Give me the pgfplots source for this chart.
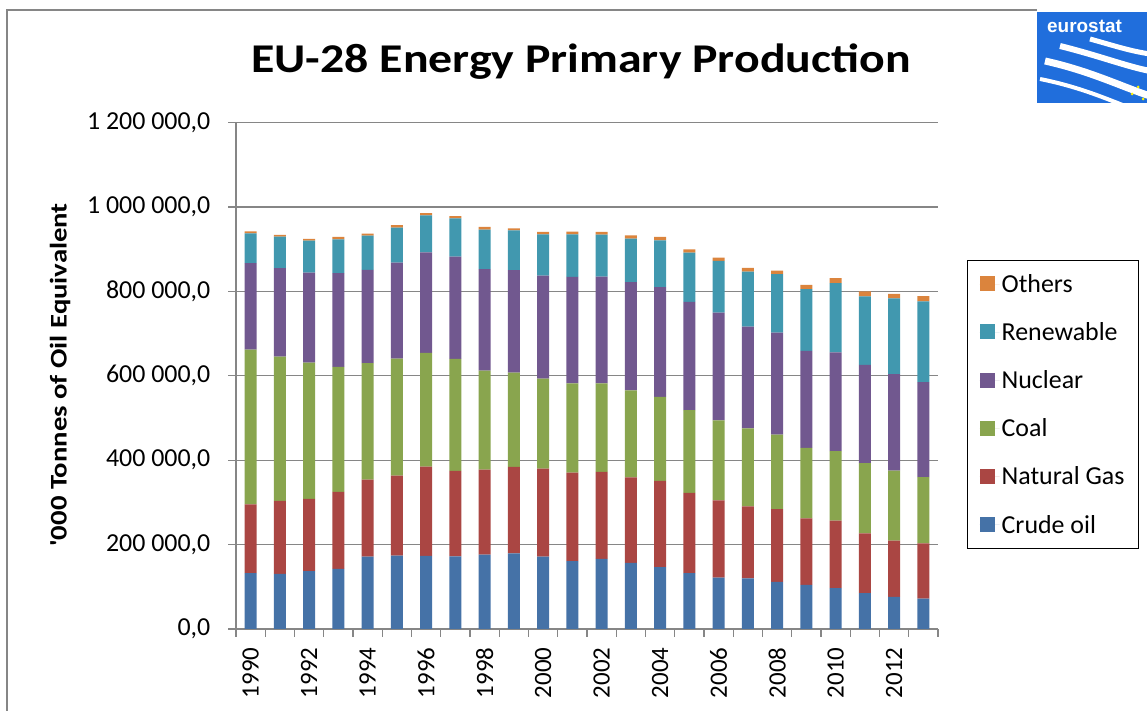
\documentclass[border=0pt]{standalone}
\usepackage{pgfplots}
\pgfplotsset{compat=1.18}
\usepackage{pgfplotstable}
\usepackage{fontspec}
\setmainfont{Carlito}
\newfontfamily\logofont{Liberation Sans}
\definecolor{oilc}{RGB}{69,114,167}
\definecolor{gasc}{RGB}{170,70,67}
\definecolor{coalc}{RGB}{137,165,78}
\definecolor{nucc}{RGB}{113,88,143}
\definecolor{renc}{RGB}{65,152,175}
\definecolor{othc}{RGB}{219,132,61}
\definecolor{gridc}{RGB}{134,134,134}
\definecolor{logoc}{RGB}{32,110,220}
\pgfplotsset{sqlegend/.style={legend image code/.code={\fill[##1] (0bp,-7bp) rectangle (15bp,8bp); \path (0bp,0bp) -- (20bp,0bp);}}}
\pgfplotstableread{
x year oil gas coal nuc ren oth
0 1990 132300 163000 366900 204700 70900 4700
1 1991 130700 173200 341800 209400 74800 4000
2 1992 137000 171700 322800 213400 75600 3900
3 1993 142500 182700 296100 222000 80300 5500
4 1994 171700 182600 275600 221300 81100 4700
5 1995 174000 189800 277100 227600 82700 6300
6 1996 173200 211800 269300 238600 87400 5500
7 1997 172400 202400 265400 242500 90500 5500
8 1998 176400 201600 234600 240200 93700 6300
9 1999 179500 204800 223600 242500 94500 4700
10 2000 171700 208600 213400 244100 97600 5600
11 2001 160600 210300 211000 252700 100800 6300
12 2002 166100 206300 209500 253500 99200 6400
13 2003 156700 202400 206200 256700 103200 7900
14 2004 146500 204700 199200 259800 111100 7800
15 2005 132300 190500 196100 256700 116500 7900
16 2006 122000 182700 189800 255100 122800 7900
17 2007 119700 170900 185000 240900 130800 8600
18 2008 111800 172500 176300 241800 138600 8600
19 2009 104700 157500 166900 230000 146400 10300
20 2010 96900 159800 164600 234600 163800 11800
21 2011 85000 141800 166100 233100 162200 11800
22 2012 76400 133000 166200 228300 179600 11000
23 2013 71700 131400 156700 225200 191400 12600
}\datatable
\begin{document}
\begin{tikzpicture}
\useasboundingbox (0,0) rectangle (1147bp,711bp);
% chart area border
\draw[gridc, line width=1.3bp] (7bp,0bp) -- (7bp,701bp) -- (1037bp,701bp);
% title
\node[font=\bfseries\fontsize{41}{48}\selectfont] at (581bp,649bp) {\scalebox{1.17}[1]{EU-28 Energy Primary Production}};
% y label
\node[font=\bfseries\fontsize{24}{29}\selectfont, rotate=90] at (60bp,336bp) {\scalebox{1.2}[1]{\textquotesingle000 Tonnes of Oil Equivalent}};
\begin{axis}[
  at={(236bp,82bp)}, anchor=south west,
  scale only axis, width=702bp, height=506.3bp,
  ybar stacked, bar width=12bp,
  xmin=-0.5, xmax=23.5, ymin=0, ymax=1200000,
  axis x line=bottom, axis y line=left,
  axis line style={-, draw=gridc, line width=1.3bp},
  xtick={0,2,...,22},
  xticklabels={1990,1992,1994,1996,1998,2000,2002,2004,2006,2008,2010,2012},
  minor xtick={-0.5,0.5,...,23.5},
  ytick={0,200000,400000,600000,800000,1000000,1200000},
  yticklabels={{0,0},{200 000,0},{400 000,0},{600 000,0},{800 000,0},{1 000 000,0},{1 200 000,0}},
  scaled y ticks=false,
  tick align=outside,
  major tick length=7.5bp, minor tick length=7.5bp,
  major x tick style={draw=none},
  minor x tick style={draw=gridc, line width=1.3bp},
  ytick style={draw=gridc, line width=1.3bp},
  ymajorgrids, major grid style={draw=gridc, line width=1.3bp},
  xticklabel style={font=\fontsize{25}{30}\selectfont, rotate=90, anchor=east, inner sep=0pt, xshift=-11bp},
  yticklabel style={font=\fontsize{26}{31}\selectfont, inner sep=0pt, xshift=-18bp},
  legend style={at={(axis description cs:1.0413,0.7288)}, anchor=north west,
    draw=black, line width=1.3bp, font=\fontsize{26}{31}\selectfont,
    inner xsep=12bp, inner ysep=12bp, row sep=24.6bp,
    nodes={inner sep=2bp}},
  legend cell align=left,
  reverse legend,
  clip=false,
]
\addplot[fill=oilc, draw=none, sqlegend] table[x=x, y=oil] {\datatable};
\addlegendentry{Crude oil}
\addplot[fill=gasc, draw=none, sqlegend] table[x=x, y=gas] {\datatable};
\addlegendentry{Natural Gas}
\addplot[fill=coalc, draw=none, sqlegend] table[x=x, y=coal] {\datatable};
\addlegendentry{Coal}
\addplot[fill=nucc, draw=none, sqlegend] table[x=x, y=nuc] {\datatable};
\addlegendentry{Nuclear}
\addplot[fill=renc, draw=none, sqlegend] table[x=x, y=ren] {\datatable};
\addlegendentry{Renewable}
\addplot[fill=othc, draw=none, sqlegend] table[x=x, y=oth] {\datatable};
\addlegendentry{Others}
\end{axis}
% eurostat logo
\begin{scope}
\clip (1037bp,608bp) rectangle (1147bp,699bp);
\fill[logoc] (1037bp,608bp) rectangle (1147bp,699bp);
\node[anchor=base west, text=white, font=\logofont\bfseries\fontsize{19}{22}\selectfont, inner sep=0pt] at (1047bp,678bp) {eurostat};
\draw[white, line width=7bp] (1045bp,650bp) .. controls (1090bp,640bp) and (1120bp,625bp) .. (1150bp,615bp);
\draw[white, line width=6bp] (1060bp,665bp) .. controls (1100bp,655bp) and (1125bp,645bp) .. (1150bp,640bp);
\draw[white, line width=5bp] (1090bp,672bp) .. controls (1115bp,665bp) and (1130bp,660bp) .. (1150bp,657bp);
\draw[white, line width=4bp] (1040bp,632bp) .. controls (1075bp,625bp) and (1100bp,615bp) .. (1125bp,605bp);
\fill[yellow] (1138bp,624bp) circle (1.5bp);
\fill[yellow] (1132bp,617bp) circle (1.5bp);
\fill[yellow] (1143bp,612bp) circle (1.5bp);
\end{scope}
\end{tikzpicture}
\end{document}
